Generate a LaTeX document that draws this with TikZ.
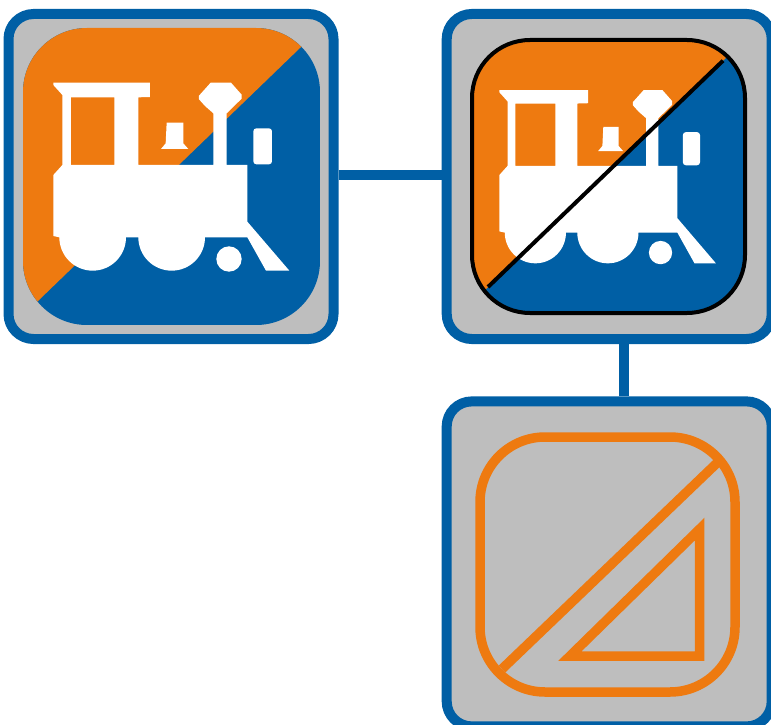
\documentclass[tikz,border=0pt]{standalone}
\usepackage{xcolor}
\usepackage{tikz}
\usetikzlibrary{positioning}
\definecolor{SignalBlue}{HTML}{005FA5}
\definecolor{SignalOrange}{HTML}{EE7A10}
\definecolor{FrameGray}{HTML}{BEBEBE}
\begin{document}
\begin{tikzpicture}[
  x=1pt, y=-1pt,
  frame/.style={draw=SignalBlue, fill=FrameGray, line width=10pt, rounded corners=25pt, inner sep=0pt, minimum width=325pt, minimum height=325pt},
  link/.style={draw=SignalBlue, line width=9.5pt},
  outline/.style={draw=SignalOrange, line width=9.5pt},
  train/.pic={
    \fill[white, even odd rule] (160,248) -- (450,248) -- (450,291) -- (415,292) -- (415,495) -- (640,495) -- (640,340) -- (615,318) -- (597,298) -- (597,287) -- (632,248) -- (693,248) -- (725,284) -- (725,296) -- (680,340) -- (680,495) -- (742,495) -- (742,665) -- (868,812) -- (798,812) -- (742,712) -- (615,712) arc[start angle=0, end angle=180, radius=100] -- (378,712) arc[start angle=0, end angle=180, radius=100] -- (160,708) -- (160,525) -- (187,495) -- (187,285) -- (160,255) -- cycle (213,292) rectangle (343,495);
    \fill[white] (500,368) -- (550,368) -- (550,430) -- (565,447) -- (483,447) -- (497,430) -- cycle;
    \fill[white, rounded corners=3pt] (760,385) rectangle (816,493);
    \fill[white] (687,777) circle[radius=38];
  }
]
\path[use as bounding box, clip] (0,0) rectangle (771,725);
\node[frame] (leftcard) at (171,176.5) {};
\node[frame, right=103.2pt of leftcard] (rightcard) {};
\node[frame, below=52.4pt of rightcard] (bottomcard) {};
\draw[link] ([yshift=1.5pt]leftcard.east) -- ([yshift=1.5pt]rightcard.west);
\draw[link] ([xshift=15pt]rightcard.south) -- ([xshift=15pt]bottomcard.north);

\begin{scope}
\clip[rounded corners=64pt] (23,28) rectangle (320,325);
\fill[SignalBlue] (23,28) rectangle (320,325);
\fill[SignalOrange] (23,28) -- (320,28) -- (300,48) -- (39,300) -- (23,316) -- cycle;
\end{scope}
\pic[scale=1/3] at (0,0) {train};

\begin{scope}
\clip[rounded corners=58pt] (472,40) rectangle (745,313);
\fill[SignalBlue] (472,40) rectangle (745,313);
\fill[SignalOrange] (472,40) -- (745,40) -- (723,60.7) -- (488,287) -- (472,303) -- cycle;
\end{scope}
\pic[xscale=.306, yscale=.3073] at (450.3,13.8) {train};
\draw[black, line width=4pt, rounded corners=58pt] (472,40) rectangle (745,313);
\draw[black, line width=4pt] (488,287) -- (723,60.7);

\draw[outline, rounded corners=65pt] (480,437) rectangle (735,692);
\draw[outline] (502,669) -- (717,463);
\draw[outline, miter limit=10] (699.7,529) -- (699.7,656) -- (570,656) -- cycle;
\end{tikzpicture}
\end{document}
